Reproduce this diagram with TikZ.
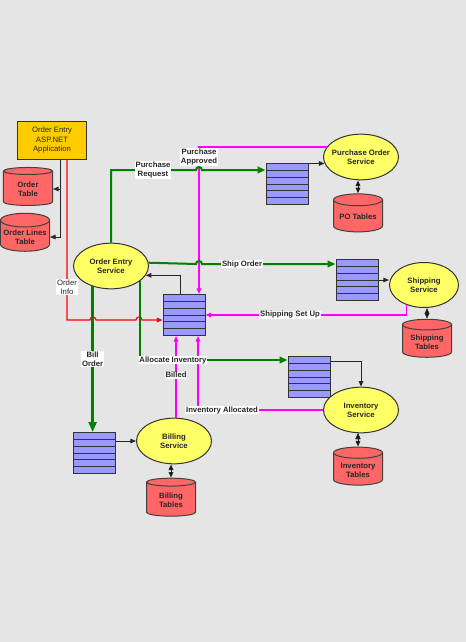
\documentclass[tikz,border=0pt]{standalone}
\usepackage{fontspec}
\setmainfont{Liberation Sans}
\usepackage{tikz}
\usetikzlibrary{ arrows.meta, calc, shapes.geometric }
\definecolor{bggray}{RGB}{229,229,229}
\definecolor{svcyellow}{RGB}{255,255,102}
\definecolor{dbred}{RGB}{255,102,102}
\definecolor{qblue}{RGB}{153,153,255}
\definecolor{appgold}{RGB}{255,204,0}
\definecolor{flowgreen}{RGB}{0,128,0}
\definecolor{flowpink}{RGB}{255,0,255}
\definecolor{flowred}{RGB}{255,0,0}
\tikzset{
>={Triangle[length=1.7mm, width=1.4mm]}, % filled arrow heads
every node/.style={inner sep=1pt, align=center, text=black!85,
  font=\fontsize{6.6}{7.9}\selectfont\bfseries},
service/.style={ellipse, draw=black!80, line width=0.3mm, fill=svcyellow,
  inner xsep=-1mm, inner ysep=0pt, minimum width=22.5mm, minimum height=13.7mm},
store/.style={cylinder, shape border rotate=90, aspect=0.3, draw=black!75,
  line width=0.3mm, fill=dbred, minimum width=14.7mm, minimum height=11.4mm},
queue/.style={rectangle, draw=black!80, line width=0.3mm, fill=qblue,
  minimum width=12.6mm, minimum height=12.3mm,
  path picture={\foreach \k in {1,...,5}
    \draw[black!80, line width=0.3mm]
    ($(path picture bounding box.north west)!{\k/6}!(path picture bounding box.south west)$) --
    ($(path picture bounding box.north east)!{\k/6}!(path picture bounding box.south east)$);}},
app/.style={rectangle, draw=black!80, line width=0.3mm, fill=appgold,
  minimum width=20.7mm, minimum height=11.4mm, font=\fontsize{6.6}{7.9}\selectfont},
lbl/.style={fill=white, inner sep=0.6pt},
ctrl/.style={draw=black!85, line width=0.3mm}, % black links
req/.style={draw=flowgreen, line width=0.6mm, >={Triangle[length=2.4mm, width=2mm]}}, % green requests
reply/.style={draw=flowpink, line width=0.4mm}, % pink replies
info/.style={draw=flowred, line width=0.35mm},
}

\begin{document}
\begin{tikzpicture}[x=0.3mm, y=-0.3mm]% one unit = one pixel, y downwards
  \fill[bggray] (0,0) rectangle (466,642);
  \useasboundingbox (0,0) rectangle (466,642);

  \node[app] (app) at (52,140) {Order Entry\\ASP.NET\\Application};
  \node[store] (ordtab) at (28,189) {Order\\Table};
  \node[store] (linetab) at (25,237) {Order Lines\\Table};

  \node[service] (oes) at (111,266) {Order Entry\\Service};
  \node[queue] (ctq) at (184,315) {};

  \node[queue] (poq) at (287,184) {};
  \node[service] (pos) at (361,157) {Purchase Order\\Service};
  \node[store] (potab) at (358,217) {PO Tables};

  \node[queue] (shq) at (357,280) {};
  \node[service, minimum width=20.7mm, minimum height=13.5mm] (shs) at (424,285) {Shipping\\Service};
  \node[store] (shtab) at (427,342) {Shipping\\Tables};

  \node[queue] (iq) at (309,377) {};
  \node[service] (inv) at (361,410) {Inventory\\Service};
  \node[store] (itab) at (358,470) {Inventory\\Tables};

  \node[queue] (bq) at (94,453) {};
  \node[service] (bs) at (174,441) {Billing\\Service};
  \node[store] (btab) at (171,500) {Billing\\Tables};

  % replies back to the order entry queue
  \draw[reply,->] (pos.164) -- (pos.164 -| 199,0) -- (ctq.north -| 199,0);
  \node[lbl] at (199,157) {Purchase\\Approved};
  \draw[reply,->] (shs.-131) |- (ctq.east) node[lbl, pos=0.79] {Shipping Set Up};
  \draw[reply,->] (bs.85) -- (bs.85 |- ctq.south) node[lbl, pos=0.52] {Billed};
  \draw[reply,->] (inv.west) -| (ctq.south -| 198,0);
  \node[lbl] at (222,410) {Inventory Allocated};

  % order info from the application
  \draw[info,->] ($(app.south)+(15,0)$) -- (67,320) -- (90,320)
    arc[start angle=180, end angle=360, radius=3] -- (136,320)
    arc[start angle=180, end angle=360, radius=3] -- ($(ctq.west)+(0,5)$);
  \node[lbl, font=\fontsize{6.6}{7.9}\selectfont] at (67,287) {Order\\Info};

  \draw[ctrl,->] ($(app.south)+(8,0)$) |- (ordtab.east);
  \draw[ctrl,->] ($(app.south)+(8,0)$) |- (linetab.east);
  \draw[ctrl,->] ($(ctq.north)+(-4,0)$) |- (oes.-15);
  \draw[ctrl,->] (poq.north east |- pos.190) -- (pos.190);
  \draw[ctrl,->] (shq.east) -- (shq.east -| shs.west);
  \draw[ctrl,->] ($(iq.north east)+(0,5)$) -| (inv.north);
  \draw[ctrl,->] (bs.west -| bq.east) -- (bs.west);

  \path[ctrl,<->]
  (potab.north |- pos.south) edge (potab.north)
  (shtab.north |- shs.south) edge (shtab.north)
  (btab.north |- bs.south) edge (btab.north)
  (itab.north |- inv.south) edge (itab.north);

  % requests from the order entry service
  \draw[req,->] (oes.north) |- (196,170) arc[start angle=180, end angle=360, radius=3]
    -- (poq.west |- 0,170);
  \node[lbl] at (153,170) {Purchase\\Request};
  \draw[req,->] (oes.5) -- (196,264) arc[start angle=180, end angle=360, radius=3]
    -- (shq.west |- 0,264) node[lbl, pos=0.3] {Ship Order};
  \draw[req,->] (oes.-28) |- (iq.west |- 0,360);
  \node[lbl] at (173,360) {Allocate Inventory};
  \draw[req, line width=0.8mm, >={Triangle[length=3mm, width=2.4mm]}, ->]
    (oes.-132) -- (oes.-132 |- bq.north) node[lbl, midway] {Bill\\Order};
\end{tikzpicture}
\end{document}
